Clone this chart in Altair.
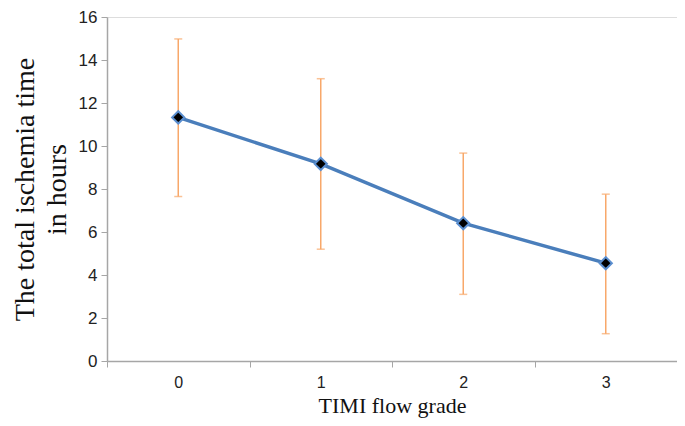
import altair as alt
import pandas as pd

grades = ["0", "1", "2", "3"]
means = [11.33, 9.17, 6.41, 4.55]
uppers = [14.98, 13.13, 9.67, 7.76]
lowers = [7.65, 5.20, 3.10, 1.27]

df = pd.DataFrame({"grade": grades, "mean": means, "upper": uppers, "lower": lowers})

xenc = alt.X("grade:N", sort=grades,
             scale=alt.Scale(paddingInner=0, paddingOuter=0),
             axis=alt.Axis(title="TIMI flow grade", labelAngle=0, tickBand="extent",
                           labelFont="Liberation Sans", labelFontSize=16, labelColor="#222222",
                           labelPadding=7, tickSize=6, tickColor="#a6a6a6",
                           domainColor="#a6a6a6", domainWidth=1.5,
                           titleFont="Liberation Serif", titleFontSize=22, titleFontWeight="normal",
                           titleColor="#111111", titleBaseline="alphabetic", titleY=51))

yscale = alt.Scale(domain=[0, 16], nice=False)
yaxis = alt.Axis(title=["The total ischemia time", "in hours"], values=list(range(0, 17, 2)),
                 grid=False, labelFont="Liberation Sans", labelFontSize=17, labelColor="#222222",
                 labelPadding=4, tickSize=6, tickColor="#a6a6a6", domainColor="#a6a6a6",
                 domainWidth=1.5, titleFont="Liberation Serif", titleFontSize=28,
                 titleFontWeight="normal", titleColor="#111111",
                 titleLineHeight=32, titleBaseline="alphabetic", titleAngle=270,
                 titleAlign="center", titleX=-74, titleY=172)

base = alt.Chart(df)

err = base.mark_rule(color="#f8a86a", strokeWidth=1.5).encode(
    x=xenc, y=alt.Y("lower:Q", scale=yscale, axis=yaxis), y2="upper:Q")
capu = base.mark_tick(color="#f8a86a", thickness=1.5, size=8).encode(
    x=xenc, y=alt.Y("upper:Q", scale=yscale))
capl = base.mark_tick(color="#f8a86a", thickness=1.5, size=8).encode(
    x=xenc, y=alt.Y("lower:Q", scale=yscale))
line = base.mark_line(color="#4a7ebb", strokeWidth=3.5).encode(
    x=xenc, y=alt.Y("mean:Q", scale=yscale))
pts = base.mark_point(shape="diamond", filled=True, fill="#000000", stroke="#5b8fd0",
                      strokeWidth=2, size=150, opacity=1).encode(
    x=xenc, y=alt.Y("mean:Q", scale=yscale))

chart = alt.layer(err, capu, capl, line, pts).properties(
    width=570, height=344,
    autosize=alt.AutoSizeParams(type="none"),
    padding={"left": 99, "top": 9, "right": 0, "bottom": 57},
).configure_view(stroke=None).configure(background="white")

chart.save("out.html", embed_options={"renderer": "svg", "actions": False})
